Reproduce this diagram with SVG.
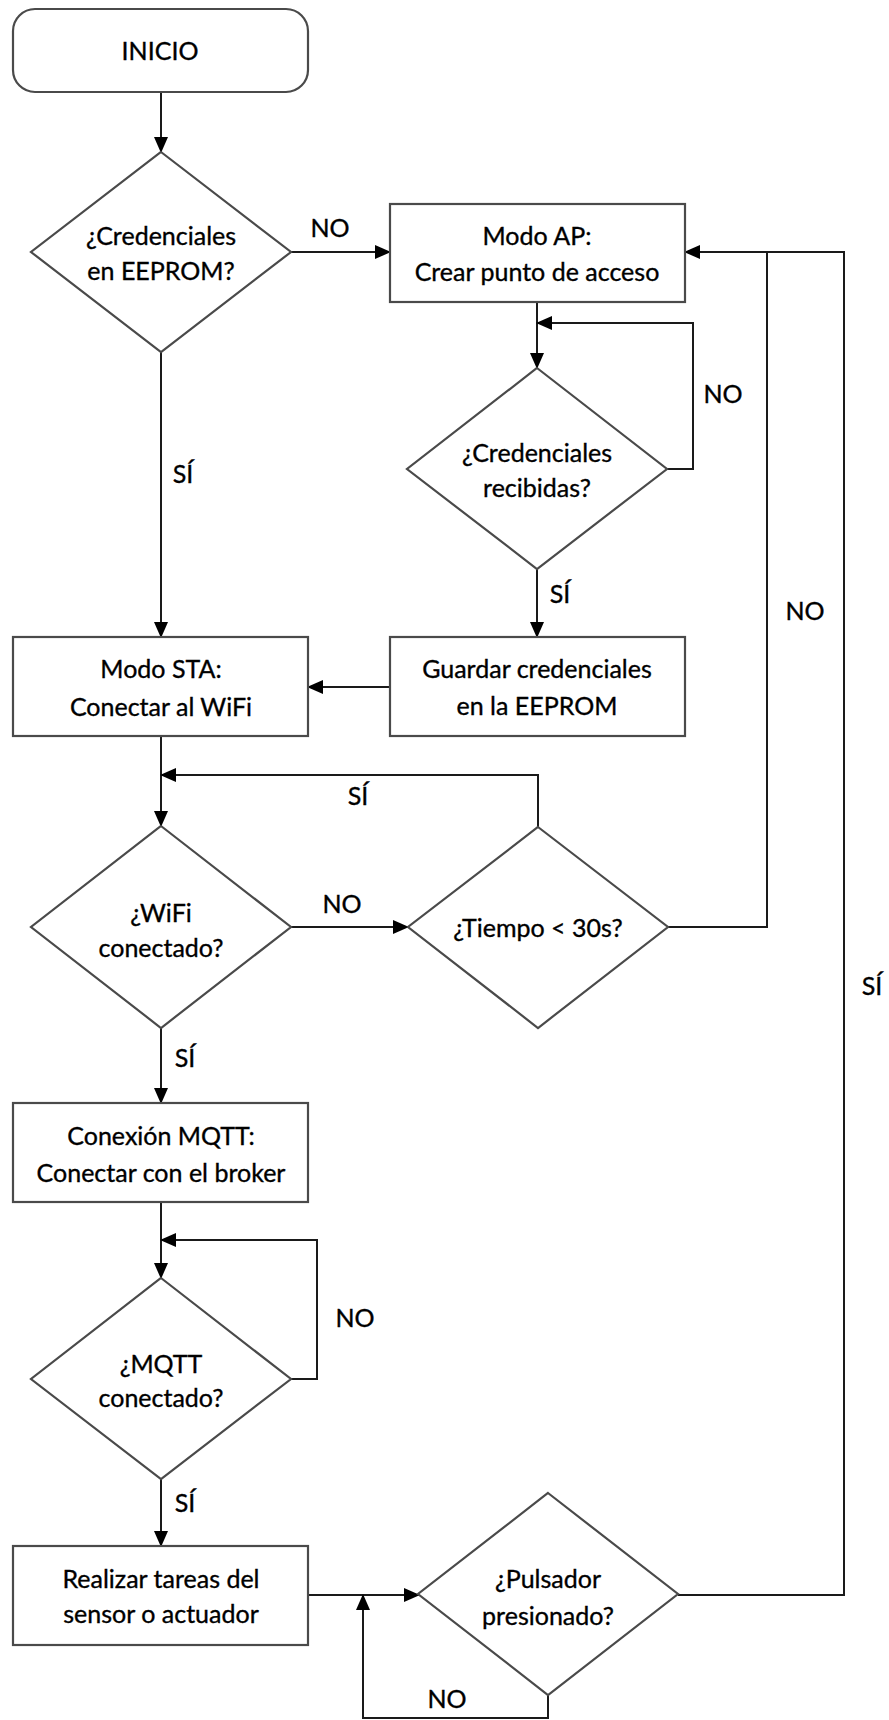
<svg xmlns="http://www.w3.org/2000/svg" width="889" height="1720" viewBox="0 0 889 1720">
  <defs>
    <marker id="arrow" markerUnits="userSpaceOnUse" markerWidth="16" markerHeight="14" refX="15" refY="7" orient="auto">
      <path d="M0,0 L16,7 L0,14 Z" fill="#000"/>
    </marker>
    <style>
      .shape { fill: #fff; stroke: #4a4a4a; stroke-width: 2.2; }
      .edge { fill: none; stroke: #1a1a1a; stroke-width: 2; }
      .arr { marker-end: url(#arrow); }
      text { font-family: Lato, "Open Sans", "Liberation Sans", sans-serif; font-size: 25px; fill: #000; stroke: #000; stroke-width: 0.35; text-anchor: middle; dominant-baseline: central; }
    </style>
  </defs>
  <rect width="889" height="1720" fill="#fff"/>

  <!-- connectors -->
  <g id="connectors">
    <path class="edge arr" d="M161,92 V152"/>
    <path class="edge arr" d="M291,252 H390"/>
    <path class="edge arr" d="M161,352 V637"/>
    <path class="edge arr" d="M537,302 V368"/>
    <path class="edge arr" d="M667,469 H693 V323 H537"/>
    <path class="edge arr" d="M537,569 V637"/>
    <path class="edge arr" d="M390,687 H308"/>
    <path class="edge arr" d="M161,736 V826"/>
    <path class="edge arr" d="M538,827 V775 H161"/>
    <path class="edge arr" d="M291,927 H408"/>
    <path class="edge arr" d="M668,927 H767 V252 H685"/>
    <path class="edge arr" d="M161,1028 V1103"/>
    <path class="edge arr" d="M161,1202 V1278"/>
    <path class="edge arr" d="M291,1379 H317 V1240 H161"/>
    <path class="edge arr" d="M161,1479 V1546"/>
    <path class="edge arr" d="M308,1595 H419"/>
    <path class="edge arr" d="M548,1695 V1718 H363 V1595"/>
    <path class="edge" d="M678,1595 H844 V252 H767"/>

    <text x="330" y="227">NO</text>
    <text x="183" y="473">SÍ</text>
    <text x="723" y="393">NO</text>
    <text x="560" y="593">SÍ</text>
    <text x="358" y="795">SÍ</text>
    <text x="342" y="903">NO</text>
    <text x="805" y="610">NO</text>
    <text x="185" y="1057">SÍ</text>
    <text x="872" y="985">SÍ</text>
    <text x="355" y="1317">NO</text>
    <text x="185" y="1502">SÍ</text>
    <text x="447" y="1698">NO</text>
  </g>

  <!-- nodes -->
  <g id="inicio">
    <rect class="shape" x="13" y="9" width="295" height="83" rx="22"/>
    <text x="160" y="50">INICIO</text>
  </g>
  <g id="credenciales-eeprom">
    <polygon class="shape" points="161,152 291,252 161,352 31,252"/>
    <text x="161" y="235">¿Credenciales</text>
    <text x="161" y="270">en EEPROM?</text>
  </g>
  <g id="modo-ap">
    <rect class="shape" x="390" y="204" width="295" height="98"/>
    <text x="537" y="235">Modo AP:</text>
    <text x="537" y="271">Crear punto de acceso</text>
  </g>
  <g id="credenciales-recibidas">
    <polygon class="shape" points="537,368 667,469 537,569 407,469"/>
    <text x="537" y="452">¿Credenciales</text>
    <text x="537" y="487">recibidas?</text>
  </g>
  <g id="guardar">
    <rect class="shape" x="390" y="637" width="295" height="99"/>
    <text x="537" y="668">Guardar credenciales</text>
    <text x="537" y="705">en la EEPROM</text>
  </g>
  <g id="modo-sta">
    <rect class="shape" x="13" y="637" width="295" height="99"/>
    <text x="161" y="668">Modo STA:</text>
    <text x="161" y="706">Conectar al WiFi</text>
  </g>
  <g id="wifi-conectado">
    <polygon class="shape" points="161,826 291,927 161,1028 31,927"/>
    <text x="161" y="912">¿WiFi</text>
    <text x="161" y="947">conectado?</text>
  </g>
  <g id="tiempo">
    <polygon class="shape" points="538,827 668,927 538,1028 408,927"/>
    <text x="538" y="927">¿Tiempo &lt; 30s?</text>
  </g>
  <g id="conexion-mqtt">
    <rect class="shape" x="13" y="1103" width="295" height="99"/>
    <text x="161" y="1135">Conexión MQTT:</text>
    <text x="161" y="1172">Conectar con el broker</text>
  </g>
  <g id="mqtt-conectado">
    <polygon class="shape" points="161,1278 291,1379 161,1479 31,1379"/>
    <text x="161" y="1363">¿MQTT</text>
    <text x="161" y="1397">conectado?</text>
  </g>
  <g id="realizar-tareas">
    <rect class="shape" x="13" y="1546" width="295" height="99"/>
    <text x="161" y="1578">Realizar tareas del</text>
    <text x="161" y="1613">sensor o actuador</text>
  </g>
  <g id="pulsador">
    <polygon class="shape" points="548,1493 678,1594 548,1695 418,1594"/>
    <text x="548" y="1578">¿Pulsador</text>
    <text x="548" y="1615">presionado?</text>
  </g>
</svg>
